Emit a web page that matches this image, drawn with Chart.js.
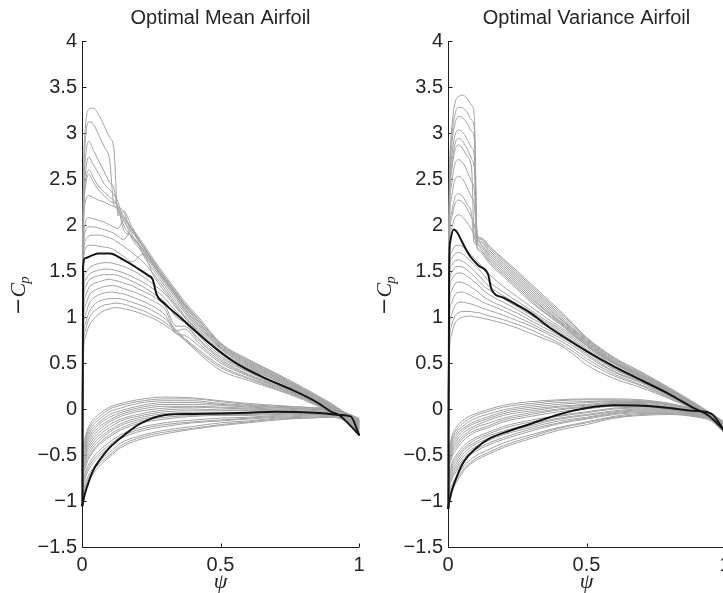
<!DOCTYPE html>
<html>
<head>
<meta charset="utf-8">
<script src="https://cdn.jsdelivr.net/npm/chart.js@4.4.0/dist/chart.umd.min.js"></script>
<style>
  html, body { margin: 0; padding: 0; background: #fff; overflow: hidden; width: 723px; height: 593px; }
  .panel { position: absolute; top: 0; width: 372px; height: 593px; }
</style>
</head>
<body>
<div class="panel" style="left:0"><canvas id="meanChart" width="372" height="593"></canvas></div>
<div class="panel" style="left:366px"><canvas id="varChart" width="372" height="593"></canvas></div>
<script>
/* Cp distributions (-Cp vs psi) for the two optimal airfoils */

const titles = ["Optimal Mean Airfoil", "Optimal Variance Airfoil"];
const yTicks = [-1.5, -1, -0.5, 0, 0.5, 1, 1.5, 2, 2.5, 3, 3.5, 4];
const xTicks = [0, 0.5, 1];

// ── Optimal mean airfoil ─────────────────────────────────────────────────────

const meanPsiUpper = [0, 0.004, 0.012, 0.025, 0.04, 0.06, 0.08, 0.1, 0.115, 0.13, 0.15, 0.18, 0.22, 0.26, 0.3, 0.34, 0.37, 0.42, 0.5, 0.6, 0.7, 0.8, 0.9, 0.95, 1];
const meanCpUpper = [
  [-1.0, 2.2, 3.05, 3.26, 3.27, 3.2, 3.08, 2.95, 2.83, 2.1, 2.15, 1.98, 1.8, 1.62, 1.45, 1.29, 1.17, 1.0, 0.72, 0.54, 0.39, 0.23, 0.06, -0.04, -0.12],
  [-1.0, 2.0, 2.9, 3.12, 3.1, 2.98, 2.85, 2.7, 2.22, 2.18, 2.1, 1.96, 1.78, 1.6, 1.43, 1.27, 1.15, 0.98, 0.71, 0.53, 0.38, 0.22, 0.05, -0.04, -0.13],
  [-1.0, 1.9, 2.7, 2.91, 2.82, 2.7, 2.58, 2.46, 2.4, 2.15, 2.08, 1.95, 1.77, 1.59, 1.42, 1.26, 1.14, 0.97, 0.7, 0.52, 0.37, 0.21, 0.05, -0.05, -0.13],
  [-1.0, 1.85, 2.55, 2.74, 2.66, 2.56, 2.45, 2.38, 2.33, 2.25, 2.05, 1.93, 1.76, 1.58, 1.41, 1.25, 1.13, 0.95, 0.69, 0.51, 0.36, 0.21, 0.04, -0.05, -0.14],
  [-1.0, 1.8, 2.45, 2.6, 2.52, 2.42, 2.36, 2.3, 2.27, 2.2, 2.15, 1.9, 1.74, 1.57, 1.4, 1.24, 1.12, 0.94, 0.68, 0.5, 0.35, 0.2, 0.04, -0.05, -0.14],
  [-1.0, 1.75, 2.4, 2.55, 2.47, 2.38, 2.32, 2.26, 2.24, 2.2, 1.95, 1.88, 1.73, 1.56, 1.39, 1.23, 1.1, 0.92, 0.67, 0.49, 0.35, 0.2, 0.03, -0.06, -0.15],
  [-1.0, 1.7, 2.25, 2.32, 2.3, 2.27, 2.25, 2.22, 2.2, 2.18, 2.0, 1.87, 1.72, 1.55, 1.38, 1.22, 1.09, 0.91, 0.66, 0.48, 0.34, 0.19, 0.03, -0.06, -0.15],
  [-1.0, 1.6, 2.03, 2.08, 2.07, 2.05, 2.03, 2.0, 1.98, 1.96, 2.05, 1.85, 1.7, 1.53, 1.36, 1.2, 1.07, 0.89, 0.65, 0.47, 0.33, 0.18, 0.02, -0.07, -0.16],
  [-1.0, 1.55, 1.93, 1.98, 1.98, 1.97, 1.95, 1.93, 1.91, 1.88, 1.84, 1.95, 1.68, 1.5, 1.33, 1.17, 1.05, 0.87, 0.63, 0.46, 0.32, 0.18, 0.02, -0.07, -0.17],
  [-1.0, 1.5, 1.83, 1.88, 1.89, 1.89, 1.88, 1.86, 1.84, 1.81, 1.77, 1.7, 1.6, 1.46, 1.3, 1.14, 1.02, 0.85, 0.62, 0.45, 0.31, 0.17, 0.01, -0.07, -0.18],
  [-1.0, 1.45, 1.74, 1.78, 1.78, 1.77, 1.76, 1.75, 1.73, 1.7, 1.66, 1.6, 1.68, 1.44, 1.27, 1.12, 1.0, 0.84, 0.61, 0.44, 0.31, 0.17, 0.01, -0.07, -0.18],
  [-1.0, 1.25, 1.47, 1.53, 1.56, 1.58, 1.59, 1.59, 1.58, 1.57, 1.55, 1.51, 1.44, 1.35, 1.25, 1.1, 1.0, 0.83, 0.6, 0.43, 0.29, 0.15, 0.0, -0.08, -0.19],
  [-1.0, 1.15, 1.4, 1.46, 1.49, 1.51, 1.52, 1.52, 1.51, 1.5, 1.48, 1.44, 1.38, 1.3, 1.2, 1.06, 0.97, 0.8, 0.58, 0.41, 0.28, 0.15, -0.01, -0.08, -0.2],
  [-1.0, 1.05, 1.32, 1.4, 1.43, 1.45, 1.46, 1.46, 1.46, 1.45, 1.43, 1.39, 1.33, 1.25, 1.16, 1.0, 0.94, 0.77, 0.56, 0.4, 0.27, 0.14, -0.01, -0.08, -0.2],
  [-1.0, 0.95, 1.22, 1.32, 1.36, 1.38, 1.4, 1.41, 1.4, 1.39, 1.37, 1.34, 1.28, 1.22, 1.12, 0.9, 0.9, 0.75, 0.54, 0.38, 0.26, 0.13, -0.02, -0.09, -0.21],
  [-1.0, 0.85, 1.12, 1.23, 1.28, 1.31, 1.33, 1.34, 1.34, 1.33, 1.31, 1.28, 1.23, 1.17, 1.08, 0.85, 0.87, 0.72, 0.52, 0.37, 0.25, 0.13, -0.02, -0.09, -0.21],
  [-1.0, 0.75, 1.02, 1.14, 1.2, 1.24, 1.26, 1.27, 1.27, 1.26, 1.25, 1.22, 1.17, 1.11, 1.02, 0.82, 0.8, 0.69, 0.5, 0.36, 0.24, 0.12, -0.02, -0.09, -0.22],
  [-1.0, 0.65, 0.92, 1.05, 1.12, 1.17, 1.19, 1.2, 1.2, 1.2, 1.19, 1.16, 1.12, 1.06, 0.98, 0.86, 0.77, 0.65, 0.47, 0.34, 0.23, 0.12, -0.03, -0.1, -0.23],
  [-1.0, 0.58, 0.85, 0.98, 1.05, 1.1, 1.13, 1.14, 1.15, 1.15, 1.14, 1.11, 1.07, 1.01, 0.94, 0.84, 0.76, 0.63, 0.45, 0.33, 0.22, 0.11, -0.03, -0.1, -0.24],
  [-1.0, 0.5, 0.78, 0.9, 0.97, 1.03, 1.07, 1.09, 1.1, 1.1, 1.09, 1.07, 1.03, 0.98, 0.91, 0.82, 0.75, 0.61, 0.42, 0.31, 0.21, 0.1, -0.04, -0.1, -0.25]
];

const meanPsiLower = [1, 0.95, 0.9, 0.8, 0.7, 0.6, 0.5, 0.4, 0.3, 0.2, 0.14, 0.1, 0.06, 0.03, 0.012, 0.004, 0];
const meanCpLower = [
  [-0.10, -0.04, 0.00, 0.02, 0.04, 0.06, 0.09, 0.12, 0.13, 0.10, 0.06, 0.02, -0.06, -0.16, -0.30, -0.48, -1.00],
  [-0.11, -0.04, -0.01, 0.02, 0.03, 0.05, 0.08, 0.11, 0.11, 0.08, 0.04, 0.00, -0.09, -0.19, -0.33, -0.50, -1.00],
  [-0.12, -0.05, -0.01, 0.01, 0.02, 0.04, 0.06, 0.09, 0.09, 0.06, 0.01, -0.03, -0.12, -0.22, -0.36, -0.53, -1.00],
  [-0.12, -0.05, -0.02, 0.00, 0.02, 0.03, 0.05, 0.07, 0.07, 0.03, -0.02, -0.06, -0.15, -0.25, -0.39, -0.55, -1.01],
  [-0.13, -0.06, -0.02, 0.00, 0.01, 0.02, 0.04, 0.05, 0.05, 0.01, -0.04, -0.09, -0.17, -0.28, -0.41, -0.57, -1.01],
  [-0.14, -0.06, -0.03, -0.01, 0.00, 0.01, 0.02, 0.03, 0.03, -0.01, -0.06, -0.12, -0.20, -0.31, -0.44, -0.60, -1.01],
  [-0.15, -0.07, -0.03, -0.02, -0.01, 0.00, 0.01, 0.02, 0.01, -0.03, -0.08, -0.14, -0.23, -0.34, -0.47, -0.62, -1.02],
  [-0.16, -0.07, -0.04, -0.03, -0.02, -0.01, -0.01, 0.00, -0.01, -0.06, -0.11, -0.17, -0.26, -0.37, -0.50, -0.65, -1.02],
  [-0.16, -0.08, -0.04, -0.03, -0.02, -0.02, -0.02, -0.02, -0.03, -0.08, -0.13, -0.20, -0.29, -0.40, -0.52, -0.67, -1.02],
  [-0.17, -0.08, -0.05, -0.04, -0.03, -0.04, -0.04, -0.04, -0.05, -0.10, -0.16, -0.23, -0.32, -0.43, -0.55, -0.70, -1.03],
  [-0.18, -0.09, -0.05, -0.04, -0.04, -0.05, -0.05, -0.05, -0.07, -0.12, -0.18, -0.25, -0.35, -0.46, -0.58, -0.72, -1.03],
  [-0.19, -0.09, -0.05, -0.05, -0.05, -0.06, -0.06, -0.07, -0.09, -0.14, -0.21, -0.28, -0.38, -0.49, -0.61, -0.74, -1.03],
  [-0.20, -0.09, -0.05, -0.05, -0.06, -0.07, -0.07, -0.08, -0.11, -0.16, -0.23, -0.30, -0.40, -0.51, -0.64, -0.76, -1.03],
  [-0.21, -0.10, -0.06, -0.06, -0.07, -0.09, -0.10, -0.12, -0.15, -0.21, -0.28, -0.36, -0.46, -0.57, -0.69, -0.81, -1.04],
  [-0.21, -0.10, -0.06, -0.07, -0.08, -0.10, -0.12, -0.14, -0.17, -0.23, -0.30, -0.39, -0.49, -0.60, -0.72, -0.84, -1.04],
  [-0.23, -0.11, -0.07, -0.08, -0.09, -0.11, -0.13, -0.15, -0.19, -0.25, -0.32, -0.41, -0.52, -0.63, -0.75, -0.86, -1.04],
  [-0.24, -0.12, -0.08, -0.09, -0.10, -0.13, -0.15, -0.19, -0.23, -0.30, -0.37, -0.47, -0.57, -0.69, -0.80, -0.90, -1.05],
  [-0.25, -0.12, -0.09, -0.10, -0.11, -0.14, -0.17, -0.21, -0.25, -0.32, -0.40, -0.50, -0.60, -0.72, -0.83, -0.93, -1.05],
  [-0.26, -0.13, -0.09, -0.10, -0.12, -0.15, -0.18, -0.22, -0.27, -0.34, -0.42, -0.52, -0.63, -0.75, -0.86, -0.95, -1.05]
];

const meanBestPsiUpper = [0.002, 0.004, 0.012, 0.036, 0.06, 0.1, 0.15, 0.2, 0.24, 0.255, 0.27, 0.3, 0.36, 0.45, 0.55, 0.65, 0.75, 0.85, 0.9, 0.93, 1];
const meanBestCpUpper  = [-1.05, 1.55, 1.64, 1.67, 1.69, 1.69, 1.62, 1.53, 1.45, 1.41, 1.24, 1.14, 0.98, 0.74, 0.51, 0.35, 0.22, 0.07, -0.03, -0.07, -0.28];
const meanBestPsiLower = [0, 0.003, 0.008, 0.02, 0.04, 0.065, 0.1, 0.15, 0.21, 0.3, 0.4, 0.5, 0.6, 0.7, 0.8, 0.88, 0.93, 0.97, 1];
const meanBestCpLower  = [-1.05, -1.03, -0.95, -0.83, -0.67, -0.55, -0.42, -0.29, -0.16, -0.065, -0.055, -0.05, -0.04, -0.03, -0.035, -0.05, -0.065, -0.08, -0.28];

// ── Optimal variance airfoil ─────────────────────────────────────────────────

const varPsiUpper = [0, 0.004, 0.012, 0.025, 0.04, 0.055, 0.07, 0.085, 0.095, 0.105, 0.12, 0.15, 0.2, 0.25, 0.3, 0.35, 0.4, 0.45, 0.5, 0.6, 0.7, 0.8, 0.9, 0.95, 1];
const varCpUpper = [
  [-1.08, 2.2, 3.0, 3.32, 3.4, 3.41, 3.37, 3.3, 3.18, 1.9, 1.86, 1.77, 1.63, 1.5, 1.36, 1.22, 1.08, 0.93, 0.78, 0.56, 0.4, 0.23, 0.05, -0.05, -0.16],
  [-1.08, 2.1, 2.9, 3.2, 3.28, 3.27, 3.22, 3.14, 3.05, 1.89, 1.85, 1.76, 1.62, 1.48, 1.34, 1.2, 1.06, 0.92, 0.77, 0.55, 0.39, 0.22, 0.04, -0.05, -0.16],
  [-1.08, 2.05, 2.82, 3.1, 3.18, 3.16, 3.1, 3.02, 2.94, 1.88, 1.84, 1.74, 1.6, 1.46, 1.32, 1.18, 1.04, 0.9, 0.76, 0.54, 0.38, 0.22, 0.04, -0.05, -0.17],
  [-1.08, 2.0, 2.7, 2.97, 3.03, 3.0, 2.93, 2.84, 2.75, 1.87, 1.82, 1.72, 1.58, 1.44, 1.3, 1.16, 1.02, 0.88, 0.75, 0.53, 0.37, 0.21, 0.04, -0.06, -0.17],
  [-1.08, 1.95, 2.62, 2.88, 2.94, 2.9, 2.82, 2.72, 2.6, 1.86, 1.81, 1.7, 1.56, 1.42, 1.28, 1.14, 1.0, 0.87, 0.74, 0.52, 0.37, 0.21, 0.03, -0.06, -0.18],
  [-1.08, 1.9, 2.55, 2.81, 2.87, 2.82, 2.74, 2.62, 1.86, 1.84, 1.79, 1.68, 1.54, 1.4, 1.26, 1.12, 0.99, 0.86, 0.73, 0.51, 0.36, 0.2, 0.03, -0.06, -0.18],
  [-1.08, 1.85, 2.42, 2.66, 2.71, 2.67, 2.58, 2.47, 2.38, 1.83, 1.78, 1.66, 1.52, 1.38, 1.24, 1.1, 0.97, 0.85, 0.72, 0.51, 0.36, 0.2, 0.03, -0.07, -0.19],
  [-1.08, 1.8, 2.28, 2.49, 2.53, 2.49, 2.4, 2.3, 2.22, 1.81, 1.76, 1.64, 1.5, 1.36, 1.22, 1.08, 0.96, 0.84, 0.71, 0.5, 0.35, 0.19, 0.02, -0.07, -0.19],
  [-1.08, 1.7, 2.12, 2.3, 2.34, 2.3, 2.22, 2.12, 1.8, 1.79, 1.74, 1.62, 1.48, 1.34, 1.2, 1.07, 0.95, 0.83, 0.7, 0.5, 0.35, 0.19, 0.02, -0.07, -0.2],
  [-1.08, 1.65, 2.06, 2.23, 2.27, 2.24, 2.17, 2.08, 2.0, 1.77, 1.72, 1.6, 1.46, 1.32, 1.18, 1.05, 0.94, 0.82, 0.69, 0.49, 0.34, 0.18, 0.02, -0.08, -0.2],
  [-1.08, 1.6, 1.95, 2.08, 2.11, 2.08, 2.02, 1.95, 1.88, 1.75, 1.7, 1.58, 1.44, 1.3, 1.16, 1.04, 0.93, 0.81, 0.69, 0.49, 0.34, 0.18, 0.01, -0.08, -0.21],
  [-1.08, 1.5, 1.7, 1.77, 1.78, 1.76, 1.72, 1.67, 1.64, 1.61, 1.56, 1.46, 1.33, 1.22, 1.11, 1.0, 0.9, 0.8, 0.69, 0.47, 0.33, 0.17, 0.01, -0.07, -0.2],
  [-1.08, 1.45, 1.63, 1.69, 1.7, 1.68, 1.64, 1.6, 1.57, 1.54, 1.49, 1.38, 1.27, 1.17, 1.07, 0.97, 0.88, 0.78, 0.67, 0.46, 0.32, 0.16, 0.01, -0.07, -0.2],
  [-1.08, 1.4, 1.56, 1.61, 1.62, 1.6, 1.57, 1.53, 1.5, 1.47, 1.42, 1.33, 1.23, 1.14, 1.05, 0.95, 0.86, 0.76, 0.65, 0.45, 0.31, 0.16, 0.01, -0.07, -0.2],
  [-1.08, 1.3, 1.48, 1.54, 1.55, 1.54, 1.51, 1.47, 1.44, 1.41, 1.36, 1.29, 1.2, 1.11, 1.02, 0.93, 0.84, 0.74, 0.64, 0.44, 0.3, 0.15, 0.01, -0.07, -0.21],
  [-1.08, 1.2, 1.4, 1.46, 1.48, 1.47, 1.44, 1.41, 1.38, 1.36, 1.31, 1.24, 1.16, 1.08, 0.99, 0.91, 0.82, 0.73, 0.62, 0.43, 0.3, 0.15, 0.0, -0.08, -0.21],
  [-1.08, 1.05, 1.28, 1.36, 1.38, 1.37, 1.35, 1.32, 1.3, 1.28, 1.24, 1.18, 1.11, 1.04, 0.96, 0.88, 0.8, 0.71, 0.6, 0.41, 0.29, 0.14, 0.0, -0.08, -0.22],
  [-1.08, 0.9, 1.15, 1.24, 1.27, 1.27, 1.25, 1.23, 1.21, 1.2, 1.17, 1.13, 1.07, 1.0, 0.93, 0.85, 0.78, 0.69, 0.58, 0.4, 0.28, 0.14, 0.0, -0.08, -0.22],
  [-1.08, 0.75, 1.02, 1.12, 1.16, 1.16, 1.15, 1.14, 1.13, 1.12, 1.1, 1.07, 1.02, 0.96, 0.9, 0.83, 0.75, 0.66, 0.55, 0.38, 0.26, 0.13, -0.01, -0.08, -0.23],
  [-1.08, 0.6, 0.9, 1.01, 1.05, 1.06, 1.06, 1.06, 1.05, 1.05, 1.04, 1.01, 0.97, 0.92, 0.86, 0.79, 0.72, 0.63, 0.52, 0.36, 0.25, 0.12, -0.01, -0.08, -0.23],
  [-1.08, 0.5, 0.8, 0.93, 0.98, 1.0, 1.01, 1.01, 1.0, 1.0, 0.99, 0.97, 0.93, 0.88, 0.82, 0.76, 0.7, 0.6, 0.48, 0.33, 0.23, 0.11, -0.02, -0.09, -0.24]
];

const varPsiLower = [1, 0.95, 0.9, 0.8, 0.7, 0.6, 0.5, 0.4, 0.3, 0.2, 0.14, 0.1, 0.06, 0.03, 0.012, 0.004, 0];
const varCpLower = [
  [-0.15, -0.05, -0.01, 0.06, 0.10, 0.11, 0.11, 0.10, 0.08, 0.04, -0.01, -0.05, -0.11, -0.20, -0.32, -0.50, -1.02],
  [-0.15, -0.05, -0.01, 0.06, 0.09, 0.10, 0.10, 0.09, 0.06, 0.02, -0.03, -0.07, -0.14, -0.23, -0.35, -0.52, -1.02],
  [-0.16, -0.06, -0.02, 0.05, 0.08, 0.09, 0.08, 0.07, 0.04, -0.01, -0.06, -0.10, -0.17, -0.26, -0.38, -0.55, -1.03],
  [-0.17, -0.06, -0.02, 0.05, 0.08, 0.08, 0.07, 0.05, 0.02, -0.03, -0.09, -0.13, -0.20, -0.29, -0.41, -0.58, -1.03],
  [-0.17, -0.07, -0.03, 0.04, 0.07, 0.07, 0.05, 0.03, 0.00, -0.05, -0.11, -0.15, -0.22, -0.32, -0.44, -0.60, -1.03],
  [-0.18, -0.07, -0.03, 0.03, 0.06, 0.06, 0.04, 0.02, -0.02, -0.07, -0.13, -0.18, -0.25, -0.35, -0.47, -0.62, -1.03],
  [-0.19, -0.07, -0.03, 0.02, 0.05, 0.05, 0.03, 0.00, -0.04, -0.10, -0.16, -0.20, -0.28, -0.38, -0.49, -0.64, -1.04],
  [-0.19, -0.08, -0.04, 0.02, 0.04, 0.04, 0.02, -0.01, -0.06, -0.12, -0.19, -0.23, -0.30, -0.41, -0.52, -0.67, -1.04],
  [-0.20, -0.08, -0.04, 0.01, 0.03, 0.03, 0.00, -0.03, -0.08, -0.14, -0.21, -0.25, -0.33, -0.44, -0.55, -0.69, -1.04],
  [-0.21, -0.09, -0.05, 0.00, 0.02, 0.01, -0.03, -0.07, -0.12, -0.19, -0.26, -0.31, -0.39, -0.50, -0.61, -0.74, -1.05],
  [-0.21, -0.09, -0.05, 0.00, 0.01, 0.00, -0.04, -0.08, -0.14, -0.21, -0.28, -0.33, -0.42, -0.53, -0.64, -0.77, -1.05],
  [-0.22, -0.10, -0.06, -0.01, 0.00, -0.02, -0.06, -0.10, -0.16, -0.24, -0.30, -0.36, -0.44, -0.56, -0.67, -0.79, -1.06],
  [-0.22, -0.10, -0.06, -0.01, -0.01, -0.03, -0.07, -0.11, -0.18, -0.26, -0.33, -0.38, -0.47, -0.59, -0.70, -0.82, -1.06],
  [-0.23, -0.11, -0.07, -0.02, -0.02, -0.04, -0.09, -0.13, -0.20, -0.28, -0.35, -0.41, -0.50, -0.62, -0.73, -0.84, -1.06],
  [-0.24, -0.11, -0.07, -0.03, -0.03, -0.05, -0.10, -0.15, -0.22, -0.31, -0.38, -0.44, -0.53, -0.65, -0.76, -0.86, -1.06],
  [-0.25, -0.11, -0.07, -0.04, -0.04, -0.06, -0.11, -0.16, -0.24, -0.33, -0.40, -0.46, -0.55, -0.68, -0.78, -0.88, -1.07],
  [-0.26, -0.12, -0.08, -0.05, -0.05, -0.08, -0.14, -0.20, -0.28, -0.37, -0.45, -0.51, -0.61, -0.74, -0.84, -0.93, -1.07],
  [-0.26, -0.12, -0.08, -0.05, -0.06, -0.09, -0.15, -0.21, -0.30, -0.40, -0.48, -0.54, -0.64, -0.77, -0.87, -0.96, -1.07],
  [-0.27, -0.13, -0.09, -0.06, -0.07, -0.10, -0.17, -0.23, -0.32, -0.42, -0.50, -0.56, -0.66, -0.80, -0.90, -0.98, -1.08]
];

const varBestPsiUpper = [0.002, 0.004, 0.008, 0.02, 0.035, 0.05, 0.08, 0.11, 0.145, 0.157, 0.2, 0.25, 0.3, 0.36, 0.42, 0.5, 0.6, 0.7, 0.8, 0.88, 0.94, 1];
const varBestCpUpper  = [-1.08, 1.5, 1.82, 1.95, 1.91, 1.82, 1.66, 1.56, 1.46, 1.3, 1.21, 1.13, 1.04, 0.9, 0.78, 0.63, 0.46, 0.31, 0.16, 0.02, -0.07, -0.24];
const varBestPsiLower = [0, 0.005, 0.015, 0.035, 0.06, 0.1, 0.15, 0.2, 0.3, 0.4, 0.5, 0.6, 0.7, 0.8, 0.88, 0.95, 1];
const varBestCpLower  = [-1.08, -1.0, -0.88, -0.71, -0.56, -0.43, -0.32, -0.26, -0.16, -0.06, 0.01, 0.04, 0.035, 0.01, -0.02, -0.05, -0.25];

// ── Styling ──────────────────────────────────────────────────────────────────

const GREY = "#a2a2a2";
const INK  = "#151515";
const TEXT = "#262626";

Chart.defaults.font.family = '"Liberation Sans", Arial, sans-serif';
Chart.defaults.color = TEXT;

function toPoints(psi, cp) {
  return psi.map((x, i) => ({ x, y: cp[i] }));
}

function buildDatasets(psiUp, cpUp, psiLo, cpLo, bestPsiUp, bestCpUp, bestPsiLo, bestCpLo) {
  const grey = [...cpUp.map(cp => toPoints(psiUp, cp)), ...cpLo.map(cp => toPoints(psiLo, cp))]
    .map(data => ({ data, borderColor: GREY, borderWidth: 1, order: 2 }));
  const best = [toPoints(bestPsiUp, bestCpUp), toPoints(bestPsiLo, bestCpLo)]
    .map(data => ({ data, borderColor: INK, borderWidth: 2, order: 1 }));
  return [...grey, ...best];
}

const fmtTick = v => String(v).replace("-", "\u2212");

// MATLAB-style box: left + bottom axis lines, ticks pointing inward,
// and the -C_p label with its subscript
const matlabAxes = {
  id: "matlabAxes",
  beforeDatasetsDraw(chart) {
    const { ctx, chartArea: a, scales: { x, y } } = chart;
    const left = Math.round(a.left) + 0.5;
    const bottom = Math.round(a.bottom) + 0.5;
    ctx.save();
    ctx.strokeStyle = "#1e1e1e";
    ctx.lineWidth = 1;
    ctx.beginPath();
    ctx.moveTo(left, a.top);
    ctx.lineTo(left, bottom);
    ctx.lineTo(a.right, bottom);
    yTicks.forEach(v => {
      const py = Math.round(y.getPixelForValue(v)) + 0.5;
      ctx.moveTo(left, py);
      ctx.lineTo(left + 4, py);
    });
    xTicks.forEach(v => {
      const px = Math.round(x.getPixelForValue(v)) + 0.5;
      ctx.moveTo(px, bottom);
      ctx.lineTo(px, bottom - 4);
    });
    ctx.stroke();
    ctx.restore();
  },
  afterDraw(chart) {
    const { ctx, chartArea: a } = chart;
    ctx.save();
    ctx.translate(a.left - 57, a.top + 274);
    ctx.rotate(-Math.PI / 2);
    ctx.fillStyle = TEXT;
    ctx.textBaseline = "alphabetic";
    ctx.font = '21px "DejaVu Serif", serif';
    ctx.fillText("\u2212", 0, 0);
    let w = ctx.measureText("\u2212").width;
    ctx.font = 'italic 22px "Liberation Serif", serif';
    ctx.fillText("C", w, 0);
    w += ctx.measureText("C").width;
    ctx.font = 'italic 15px "Liberation Serif", serif';
    ctx.fillText("p", w - 1, 4);
    ctx.restore();
  }
};

function makeChart(canvasId, title, datasets) {
  return new Chart(document.getElementById(canvasId), {
    type: "line",
    data: { datasets },
    options: {
      responsive: false,
      animation: false,
      events: [],
      layout: { padding: { left: 0, right: 13, top: 0, bottom: 0 } },
      elements: {
        point: { radius: 0 },
        line: { cubicInterpolationMode: "monotone", borderJoinStyle: "round", borderCapStyle: "round" }
      },
      datasets: { line: { clip: false } },
      plugins: {
        legend: { display: false },
        tooltip: { enabled: false },
        title: {
          display: true,
          fullSize: false,
          text: title,
          color: TEXT,
          font: { size: 20, weight: "normal", lineHeight: 1.2 },
          padding: { top: 6, bottom: 11 }
        }
      },
      scales: {
        x: {
          type: "linear",
          min: 0,
          max: 1,
          afterFit: s => { s.height = 46; },
          afterBuildTicks: s => { s.ticks = xTicks.map(value => ({ value })); },
          grid: { display: false, drawTicks: false },
          border: { display: false },
          ticks: { padding: 6, maxRotation: 0, color: TEXT, font: { size: 20 }, callback: fmtTick },
          title: {
            display: true,
            text: "\u03C8",
            color: TEXT,
            font: { family: '"Liberation Serif", serif', style: "italic", size: 22, lineHeight: 1 },
            padding: { top: 0, bottom: 0 }
          }
        },
        y: {
          type: "linear",
          min: -1.5,
          max: 4,
          afterFit: s => { s.width = 82; },
          afterBuildTicks: s => { s.ticks = yTicks.map(value => ({ value })); },
          grid: { display: false, drawTicks: false },
          border: { display: false },
          ticks: { padding: 5, color: TEXT, font: { size: 20 }, callback: fmtTick }
        }
      }
    },
    plugins: [matlabAxes]
  });
}

makeChart("meanChart", titles[0], buildDatasets(
  meanPsiUpper, meanCpUpper, meanPsiLower, meanCpLower,
  meanBestPsiUpper, meanBestCpUpper, meanBestPsiLower, meanBestCpLower));

makeChart("varChart", titles[1], buildDatasets(
  varPsiUpper, varCpUpper, varPsiLower, varCpLower,
  varBestPsiUpper, varBestCpUpper, varBestPsiLower, varBestCpLower));
</script>
</body>
</html>
